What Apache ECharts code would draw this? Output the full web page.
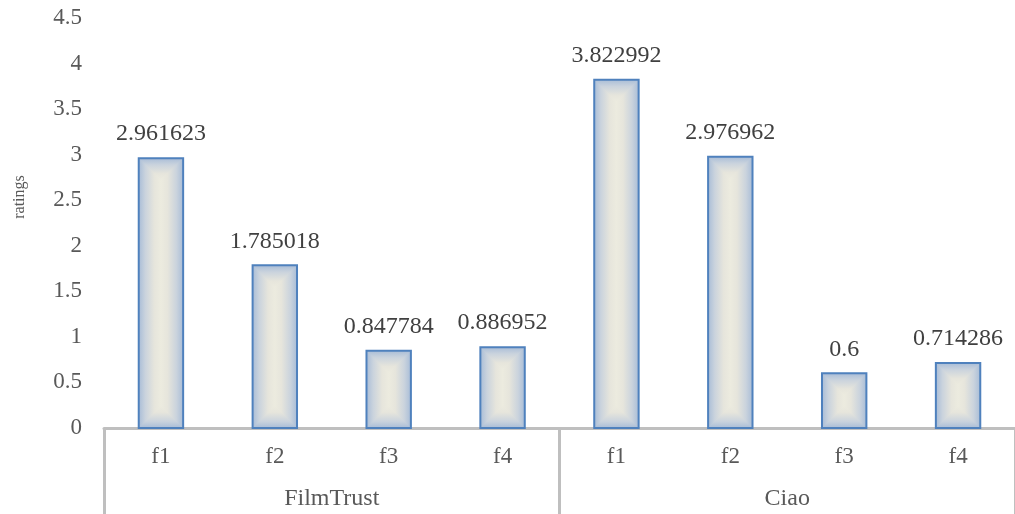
<!DOCTYPE html>
<html>
<head>
<meta charset="utf-8">
<script src="https://cdn.jsdelivr.net/npm/echarts@6/dist/echarts.min.js"></script>
<style>
  html, body { margin: 0; padding: 0; background: #ffffff; }
  #chart { width: 1015px; height: 514px; }
</style>
</head>
<body>
<div id="chart"></div>
<script>
// Feature labels along the lower axis level, and the dataset each group belongs to
const categories = ['f1', 'f2', 'f3', 'f4', 'f1', 'f2', 'f3', 'f4'];
const groups = ['FilmTrust', 'Ciao'];
const ratings = [2.961623, 1.785018, 0.847784, 0.886952, 3.822992, 2.976962, 0.6, 0.714286];
const yTicks = { min: 0, max: 4.5, step: 0.5 };

const FONT = '"Liberation Serif", "Times New Roman", serif';
const EDGE = '#a9bdd7';
const MID1 = '#cad3dd';
const MID2 = '#e6e5dc';
const CENTER = '#ecebdf';

function halfStops() {
  return [
    { offset: 0, color: EDGE },
    { offset: 0.3, color: MID1 },
    { offset: 0.7, color: MID2 },
    { offset: 1, color: CENTER }
  ];
}

// Bar with a rectangular "path" gradient: bluish at every edge, cream in the middle
function renderBar(params, api) {
  const idx = api.value(0);
  const val = api.value(1);
  const base = api.coord([idx, 0]);
  const top = api.coord([idx, val]);
  const band = api.size([1, 0])[0];
  const w = band * 0.39;
  const x0 = base[0] - w / 2;
  const y0 = top[1];
  const h = base[1] - top[1];
  const inset = Math.min(w, h) / 2;

  const sideFill = new echarts.graphic.LinearGradient(0, 0, 1, 0, [
    { offset: 0, color: EDGE },
    { offset: 0.15, color: MID1 },
    { offset: 0.35, color: MID2 },
    { offset: 0.5, color: CENTER },
    { offset: 0.65, color: MID2 },
    { offset: 0.85, color: MID1 },
    { offset: 1, color: EDGE }
  ]);

  return {
    type: 'group',
    children: [
      { type: 'rect', shape: { x: x0, y: y0, width: w, height: h }, style: { fill: sideFill } },
      {
        type: 'polygon',
        shape: { points: [[x0, y0], [x0 + w, y0], [x0 + w - inset, y0 + inset], [x0 + inset, y0 + inset]] },
        style: { fill: new echarts.graphic.LinearGradient(0, 0, 0, 1, halfStops()) }
      },
      {
        type: 'polygon',
        shape: { points: [[x0, y0 + h], [x0 + w, y0 + h], [x0 + w - inset, y0 + h - inset], [x0 + inset, y0 + h - inset]] },
        style: { fill: new echarts.graphic.LinearGradient(0, 1, 0, 0, halfStops()) }
      },
      {
        type: 'rect',
        shape: { x: x0, y: y0, width: w, height: h },
        style: { fill: null, stroke: '#4f81bd', lineWidth: 2 }
      },
      {
        type: 'text',
        style: {
          text: String(ratings[params.dataIndex]),
          x: base[0],
          y: y0 - 24,
          textAlign: 'center',
          textVerticalAlign: 'middle',
          fill: '#404040',
          font: '24px ' + FONT
        }
      }
    ]
  };
}

const chart = echarts.init(document.getElementById('chart'), null, { renderer: 'canvas' });

chart.setOption({
  animation: false,
  backgroundColor: '#ffffff',
  grid: { left: 104, top: 18, width: 920, height: 410 },
  xAxis: [
    {
      type: 'category',
      position: 'bottom',
      data: categories,
      axisLine: { show: true, lineStyle: { color: '#bfbfbf', width: 3 } },
      axisTick: { show: false },
      axisLabel: { color: '#595959', fontFamily: FONT, fontSize: 23, margin: 17 },
      splitLine: { show: false }
    },
    {
      type: 'category',
      position: 'bottom',
      data: groups,
      axisLine: { show: false },
      axisTick: { show: true, length: 88, interval: 0, alignWithLabel: false, lineStyle: { color: '#bfbfbf', width: 3 } },
      axisLabel: { color: '#595959', fontFamily: FONT, fontSize: 24, margin: 59 },
      splitLine: { show: false }
    }
  ],
  yAxis: {
    type: 'value',
    min: yTicks.min,
    max: yTicks.max,
    interval: yTicks.step,
    axisLine: { show: false },
    axisTick: { show: false },
    splitLine: { show: false },
    axisLabel: { color: '#595959', fontFamily: FONT, fontSize: 23, margin: 22 }
  },
  graphic: [
    {
      type: 'text',
      x: 20,
      y: 197,
      rotation: Math.PI / 2,
      style: {
        text: 'ratings',
        textAlign: 'center',
        textVerticalAlign: 'middle',
        fill: '#595959',
        font: '16px ' + FONT
      }
    }
  ],
  series: [
    {
      type: 'custom',
      xAxisIndex: 0,
      yAxisIndex: 0,
      renderItem: renderBar,
      data: ratings.map((v, i) => [i, v]),
      clip: false
    }
  ]
});
</script>
</body>
</html>
